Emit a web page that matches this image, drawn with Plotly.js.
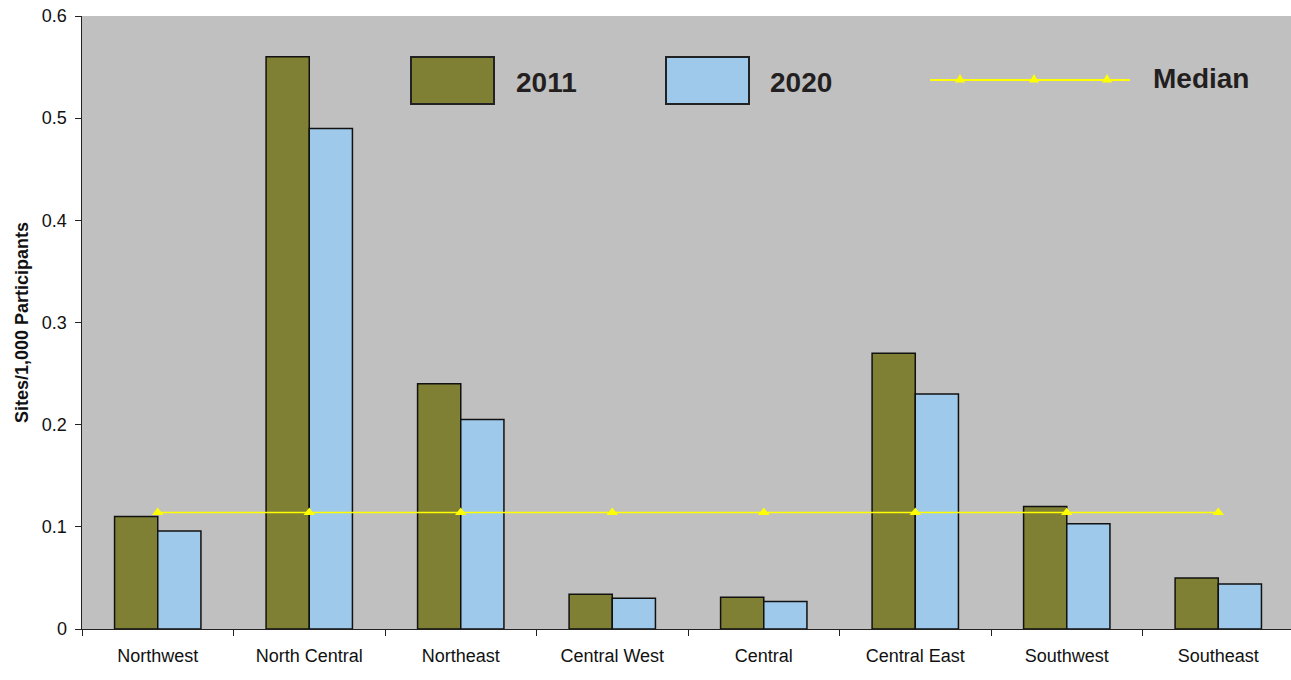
<!DOCTYPE html>
<html>
<head>
<meta charset="utf-8">
<script src="https://cdn.plot.ly/plotly-3.0.1.min.js"></script>
<style>html,body{margin:0;padding:0;background:#fff;}#chart{width:1291px;height:680px;}</style>
</head>
<body>
<div id="chart"></div>
<script>
const categories = ["Northwest","North Central","Northeast","Central West","Central","Central East","Southwest","Southeast"];
const values2011 = [0.11, 0.56, 0.24, 0.034, 0.031, 0.27, 0.12, 0.05];
const values2020 = [0.096, 0.49, 0.205, 0.030, 0.027, 0.23, 0.103, 0.044];
const medianValues = [0.114, 0.114, 0.114, 0.114, 0.114, 0.114, 0.114, 0.114];
const yTicks = [0, 0.1, 0.2, 0.3, 0.4, 0.5, 0.6];
const yTickLabels = ["0", "0.1", "0.2", "0.3", "0.4", "0.5", "0.6"];

const olive = "#7f8033";
const blue = "#9fc9ea";
const font = "Liberation Sans, Arial, sans-serif";

const traces = [
  {type:"bar", name:"2011", x:categories, y:values2011, marker:{color:olive, line:{color:"#111", width:1.5}}},
  {type:"bar", name:"2020", x:categories, y:values2020, marker:{color:blue, line:{color:"#111", width:1.5}}},
  {type:"scatter", mode:"lines+markers", name:"Median", x:categories, y:medianValues,
   line:{color:"#ffff00", width:1.6}, marker:{symbol:"triangle-up", size:10, color:"#ffff00"}}
];

const W = 1291 - 82, H = 629 - 16;
const px = x => (x - 82) / W;
const py = y => (629 - y) / H;
function tri(cx, cy, s) {
  return {type:"path", xref:"paper", yref:"paper",
    path:`M ${px(cx-s)} ${py(cy+s*0.7)} L ${px(cx+s)} ${py(cy+s*0.7)} L ${px(cx)} ${py(cy-s)} Z`,
    fillcolor:"#ffff00", line:{color:"#ffff00", width:0}};
}
const shapes = [
  {type:"rect", xref:"paper", yref:"paper", x0:px(411), x1:px(494), y0:py(104), y1:py(57), fillcolor:olive, line:{color:"#222", width:2}},
  {type:"rect", xref:"paper", yref:"paper", x0:px(666), x1:px(749), y0:py(104), y1:py(57), fillcolor:blue, line:{color:"#222", width:2}},
  {type:"line", xref:"paper", yref:"paper", x0:px(930), x1:px(1130), y0:py(80), y1:py(80), line:{color:"#ffff00", width:2}},
  tri(960, 79, 5), tri(1034, 79, 5), tri(1107, 79, 5)
];
const annotations = [
  {xref:"paper", yref:"paper", x:px(514), y:py(82), xanchor:"left", yanchor:"middle", text:"<b>2011</b>", showarrow:false, font:{family:font, size:28, color:"#231f20"}},
  {xref:"paper", yref:"paper", x:px(768), y:py(82), xanchor:"left", yanchor:"middle", text:"<b>2020</b>", showarrow:false, font:{family:font, size:28, color:"#231f20"}},
  {xref:"paper", yref:"paper", x:px(1151), y:py(79), xanchor:"left", yanchor:"middle", text:"<b>Median</b>", showarrow:false, font:{family:font, size:28, color:"#231f20"}}
];

const layout = {
  width:1291, height:680,
  margin:{l:82, r:0, t:16, b:51},
  paper_bgcolor:"#ffffff", plot_bgcolor:"#c0c0c0",
  barmode:"group", bargap:0.43, bargroupgap:0,
  showlegend:false,
  font:{family:font, size:18, color:"#111"},
  xaxis:{range:[-0.5, 7.48], showline:true, linecolor:"#222", linewidth:1, ticks:"outside", ticklen:6, tickcolor:"#222",
         tickson:"boundaries", showgrid:false, zeroline:false, tickfont:{size:18}, ticklabelstandoff:10, fixedrange:true},
  yaxis:{range:[0, 0.6], tickvals:yTicks, ticktext:yTickLabels, showline:true, linecolor:"#222", linewidth:1.5,
         ticks:"outside", ticklen:6, tickcolor:"#222", showgrid:false, zeroline:false, tickfont:{size:18}, ticklabelstandoff:4,
         title:{text:"<b>Sites/1,000 Participants</b>", font:{size:18}, standoff:8}},
  shapes:shapes, annotations:annotations
};
Plotly.newPlot("chart", traces, layout, {displayModeBar:false, staticPlot:true});
</script>
</body>
</html>
